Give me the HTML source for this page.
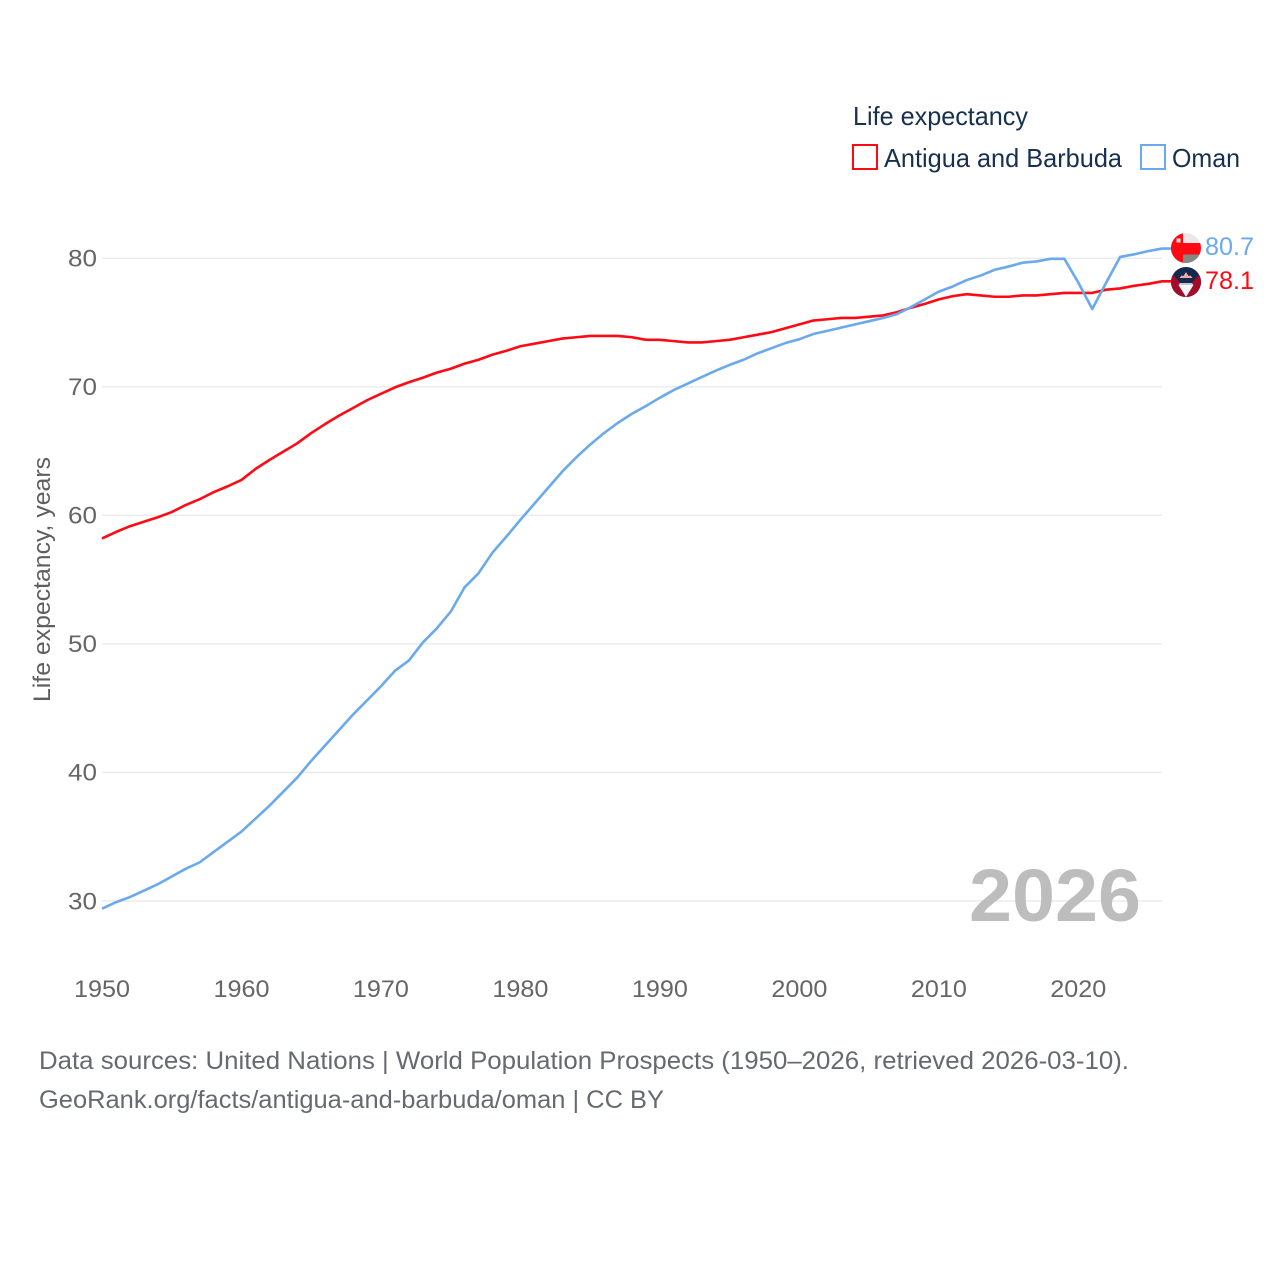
<!DOCTYPE html>
<html lang="en">
<head>
<meta charset="utf-8">
<title>Life expectancy: Antigua and Barbuda vs Oman</title>
<style>
html,body{margin:0;padding:0;background:#fff;}
svg{display:block;font-family:"Liberation Sans",sans-serif;}
</style>
</head>
<body>
<svg id="chart" xmlns="http://www.w3.org/2000/svg" width="1280" height="1280" viewBox="0 0 1280 1280">
  <rect width="1280" height="1280" fill="#fff"/>
  <defs>
    <clipPath id="clip-oman"><circle cx="1186" cy="248" r="15"/></clipPath>
    <clipPath id="clip-antigua"><circle cx="1186" cy="282" r="15"/></clipPath>
  </defs>
  <g id="grid"></g>
  <g id="yticks"></g>
  <g id="xticks"></g>
  <text transform="translate(50,702) rotate(-90)" font-size="24" fill="#5f5f5f" textLength="245" lengthAdjust="spacingAndGlyphs">Life expectancy, years</text>
  <text x="969" y="921" font-size="74" font-weight="700" fill="#bdbdbd" textLength="172" lengthAdjust="spacingAndGlyphs">2026</text>
  <g id="series"></g>

  <g clip-path="url(#clip-oman)">
    <rect x="1171" y="233" width="30" height="30" fill="#e9e9e9"/>
    <rect x="1171" y="254" width="30" height="9" fill="#7f8a82"/>
    <rect x="1171" y="243" width="30" height="11.500" fill="#ff0a14"/>
    <rect x="1171" y="233" width="12" height="30" fill="#ff0a14"/>
    <rect x="1176.500" y="238.500" width="4" height="4" fill="#f6dede"/>
  </g>
  <g clip-path="url(#clip-antigua)">
    <rect x="1171" y="267" width="30" height="30" fill="#14294d"/>
    <polygon points="1171,272 1182,285 1186,297 1190,285 1201,272 1201,297 1171,297" fill="#a10d2b"/>
    <path d="M1179.500 278 L1181.500 275.500 L1183.500 276 L1186 272 L1188.500 276 L1190.500 275.500 L1192.500 278 Z" fill="#f3a9a5"/>
    <polygon points="1180,283 1192,283 1193.500,285 1178.500,285" fill="#b9c9de"/>
    <polygon points="1178.500,285 1193.500,285 1186,297" fill="#f6f6f6"/>
  </g>
  <text x="1205" y="255" font-size="25" fill="#6aa9ec" textLength="49" lengthAdjust="spacingAndGlyphs">80.7</text>
  <text x="1205" y="289" font-size="25" fill="#ff0a14" textLength="49" lengthAdjust="spacingAndGlyphs">78.1</text>

  <g>
    <text x="853" y="125" font-size="26" fill="#18304f" textLength="175" lengthAdjust="spacingAndGlyphs">Life expectancy</text>
    <rect x="853" y="145" width="24" height="24" fill="#fff" stroke="#ff0a14" stroke-width="2"/>
    <text x="884" y="167" font-size="26" fill="#18304f" textLength="238" lengthAdjust="spacingAndGlyphs">Antigua and Barbuda</text>
    <rect x="1141" y="145" width="24" height="24" fill="#fff" stroke="#6aa9ec" stroke-width="2"/>
    <text x="1172" y="167" font-size="26" fill="#18304f" textLength="68" lengthAdjust="spacingAndGlyphs">Oman</text>
  </g>

  <text x="39" y="1069" font-size="25" fill="#666a70" textLength="1090" lengthAdjust="spacingAndGlyphs">Data sources: United Nations | World Population Prospects (1950–2026, retrieved 2026-03-10).</text>
  <text x="39" y="1108" font-size="25" fill="#666a70" textLength="625" lengthAdjust="spacingAndGlyphs">GeoRank.org/facts/antigua-and-barbuda/oman | CC BY</text>
</svg>
<script>
const yTickValues = [30, 40, 50, 60, 70, 80];
const xTickYears = [1950, 1960, 1970, 1980, 1990, 2000, 2010, 2020];
const startYear = 1950;
const antiguaValues = [
  58.2, 58.7, 59.15, 59.5, 59.85, 60.25, 60.8, 61.25, 61.8, 62.25,
  62.75, 63.6, 64.3, 64.95, 65.6, 66.4, 67.1, 67.75, 68.35, 68.95,
  69.45, 69.95, 70.35, 70.7, 71.1, 71.4, 71.8, 72.1, 72.5, 72.8,
  73.15, 73.35, 73.55, 73.75, 73.85, 73.95, 73.95, 73.95, 73.85, 73.65,
  73.65, 73.55, 73.45, 73.45, 73.55, 73.65, 73.85, 74.05, 74.25, 74.55,
  74.85, 75.15, 75.25, 75.35, 75.35, 75.45, 75.55, 75.8, 76.15, 76.45,
  76.8, 77.05, 77.2, 77.1, 77.0, 77.0, 77.1, 77.1, 77.2, 77.3,
  77.3, 77.3, 77.55, 77.65, 77.85, 78.0, 78.2
];
const omanValues = [
  29.4, 29.9, 30.3, 30.8, 31.3, 31.9, 32.5, 33.0, 33.8, 34.6,
  35.4, 36.4, 37.4, 38.5, 39.6, 40.9, 42.1, 43.3, 44.5, 45.6,
  46.7, 47.9, 48.7, 50.1, 51.2, 52.5, 54.4, 55.5, 57.1, 58.35,
  59.65, 60.9, 62.15, 63.4, 64.5, 65.5, 66.4, 67.2, 67.9, 68.5,
  69.15, 69.75, 70.25, 70.75, 71.25, 71.7, 72.1, 72.6, 73.0, 73.4,
  73.7, 74.1, 74.35, 74.6, 74.85, 75.1, 75.35, 75.65, 76.2, 76.8,
  77.4, 77.8, 78.3, 78.65, 79.1, 79.35, 79.65, 79.75, 79.95, 79.95,
  78.1, 76.05, 78.1, 80.1, 80.3, 80.55, 80.75
];

const NS = 'http://www.w3.org/2000/svg';
const plotLeft = 102, plotRight = 1162;
const xScale = yr => plotLeft + (yr - 1950) * (plotRight - plotLeft) / 76;
const yScale = v => 258.2 + (80 - v) * 12.855;

function make(tag, attrs, parent, text) {
  const el = document.createElementNS(NS, tag);
  for (const k in attrs) el.setAttribute(k, attrs[k]);
  if (text !== undefined) el.textContent = text;
  parent.appendChild(el);
  return el;
}

const grid = document.getElementById('grid');
const yG = document.getElementById('yticks');
const xG = document.getElementById('xticks');
const seriesG = document.getElementById('series');

yTickValues.forEach(v => {
  const line = make('line', {x1: plotLeft, x2: plotRight, y1: yScale(v), y2: yScale(v), stroke: '#ececec', 'stroke-width': 1.5}, grid);
  
  
  const t = make('text', {x: 97, y: yScale(v) + 8.3, 'text-anchor': 'end', 'font-size': 24.5, fill: '#666', textLength: 29, lengthAdjust: 'spacingAndGlyphs'}, yG, String(v));
  
  
});

xTickYears.forEach(yr => {
  const t = make('text', {x: xScale(yr), y: 997, 'text-anchor': 'middle', 'font-size': 24.5, fill: '#666', textLength: 56, lengthAdjust: 'spacingAndGlyphs'}, xG, String(yr));
  
  
});

function drawSeries(values, color) {
  const pts = values.map((v, i) => xScale(startYear + i).toFixed(2) + ',' + yScale(v).toFixed(2));
  const last = values[values.length - 1];
  pts.push('1171,' + yScale(last).toFixed(2));
  return make('polyline', {points: pts.join(' '), fill: 'none', stroke: color, 'stroke-width': 2.6, 'stroke-linejoin': 'round'}, seriesG);
}

const antiguaLine = drawSeries(antiguaValues, '#ff0a14');


const omanLine = drawSeries(omanValues, '#6aa9ec');


</script>
</body>
</html>
